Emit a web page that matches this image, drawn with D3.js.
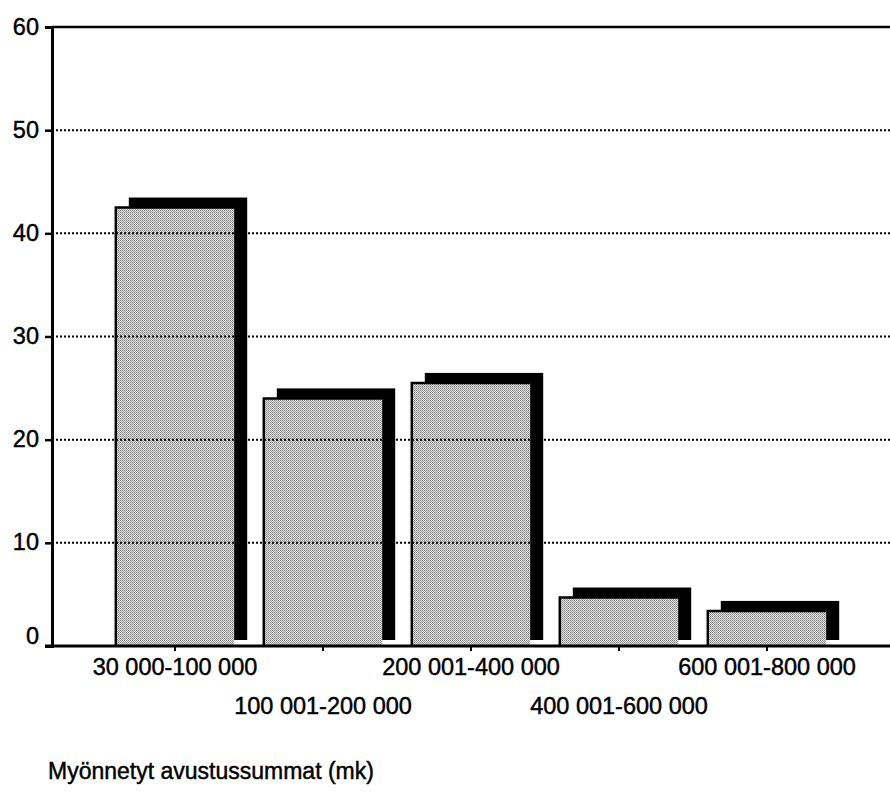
<!DOCTYPE html>
<html>
<head>
<meta charset="utf-8">
<script src="https://cdn.jsdelivr.net/npm/d3@7"></script>
<style>
  html, body { margin: 0; padding: 0; background: #fff; }
  svg { display: block; }
  text { font-family: "Liberation Sans", Arial, sans-serif; fill: #000; stroke: #000; stroke-width: 0.45px; }
</style>
</head>
<body>
<svg id="chart" width="890" height="799"></svg>
<script>
// Granted grant sums by size class (mk), share of grants (%)
const categories = ["30 000-100 000", "100 001-200 000", "200 001-400 000", "400 001-600 000", "600 001-800 000"];
const values = [42.5, 24.0, 25.5, 4.7, 3.4];
const yTicks = [0, 10, 20, 30, 40, 50, 60];
const axisTitle = "Myönnetyt avustussummat (mk)";

const svg = d3.select("#chart");
const W = 890;

const y = d3.scaleLinear().domain([0, 60]).range([646, 27]);
const x = d3.scaleBand().domain(categories).range([101, 841]).paddingInner(0.2).paddingOuter(0.1);

// dithered grey fill for the bar faces
const defs = svg.append("defs");
const pat = defs.append("pattern").attr("id", "dither")
  .attr("width", 2).attr("height", 2).attr("patternUnits", "userSpaceOnUse");
pat.append("rect").attr("width", 2).attr("height", 2).attr("fill", "#e0e0e0");
pat.append("rect").attr("x", 0).attr("y", 0).attr("width", 1).attr("height", 1).attr("fill", "#858585");
pat.append("rect").attr("x", 1).attr("y", 1).attr("width", 1).attr("height", 1).attr("fill", "#a0a0a0");

const left = 52;

// shadows behind the bars
const sdx = 13, sdy = 10;
svg.append("g").selectAll("rect").data(categories).join("rect")
  .attr("x", (c) => x(c) + sdx)
  .attr("y", (c, i) => y(values[i]) - sdy)
  .attr("width", x.bandwidth())
  .attr("height", (c, i) => (y(0) - 6) - (y(values[i]) - sdy))
  .attr("fill", "#000");

// bar faces
svg.append("g").selectAll("rect").data(categories).join("rect")
  .attr("x", (c) => x(c))
  .attr("y", (c, i) => y(values[i]))
  .attr("width", x.bandwidth())
  .attr("height", (c, i) => y(0) - y(values[i]))
  .attr("fill", "url(#dither)");

// black edge on left and top of each face
svg.append("g").selectAll("path").data(categories).join("path")
  .attr("d", (c, i) => {
    const x0 = x(c), y0 = y(values[i]);
    return `M${x0},${y(0)}V${y0}H${x0 + x.bandwidth()}`;
  })
  .attr("fill", "none").attr("stroke", "#000").attr("stroke-width", 2.5);

// dotted gridlines
svg.append("g").selectAll("line").data(yTicks.filter(t => t > 0 && t < 60)).join("line")
  .attr("x1", left).attr("x2", W)
  .attr("y1", d => y(d)).attr("y2", d => y(d))
  .attr("stroke", "#000").attr("stroke-width", 2)
  .attr("stroke-dasharray", "2,2");

// top frame line
svg.append("line").attr("x1", left).attr("x2", W).attr("y1", y(60)).attr("y2", y(60))
  .attr("stroke", "#000").attr("stroke-width", 2.5);

// y axis
const yAxis = d3.axisLeft(y).tickValues(yTicks).tickSize(7).tickPadding(6).tickFormat(d3.format("d"));
const gy = svg.append("g").attr("transform", `translate(${left},0)`).call(yAxis);
gy.select(".domain").attr("stroke-width", 3);
gy.selectAll(".tick line").attr("stroke-width", 2.5);
gy.selectAll(".tick text")
  .style("font-size", "23.5px")
  .attr("x", -13)
  .attr("dy", d => d === 0 ? "-0.12em" : "0.3em");

// x axis
const xAxis = d3.axisBottom(x).tickSize(5).tickSizeOuter(0);
const gx = svg.append("g").attr("transform", `translate(0,${y(0)})`).call(xAxis);
gx.select(".domain").remove();
gx.append("line").attr("x1", left - 7).attr("x2", W).attr("y1", 0).attr("y2", 0)
  .attr("stroke", "#000").attr("stroke-width", 3);
gx.selectAll(".tick line").attr("stroke-width", 2);
gx.selectAll(".tick text")
  .style("font-size", "23.5px")
  .attr("y", (d, i) => i % 2 === 0 ? 29 : 68)
  .attr("dy", 0);

// axis title
svg.append("text").attr("x", 48).attr("y", 779)
  .style("font-size", "23px")
  .text(axisTitle);
</script>
</body>
</html>
